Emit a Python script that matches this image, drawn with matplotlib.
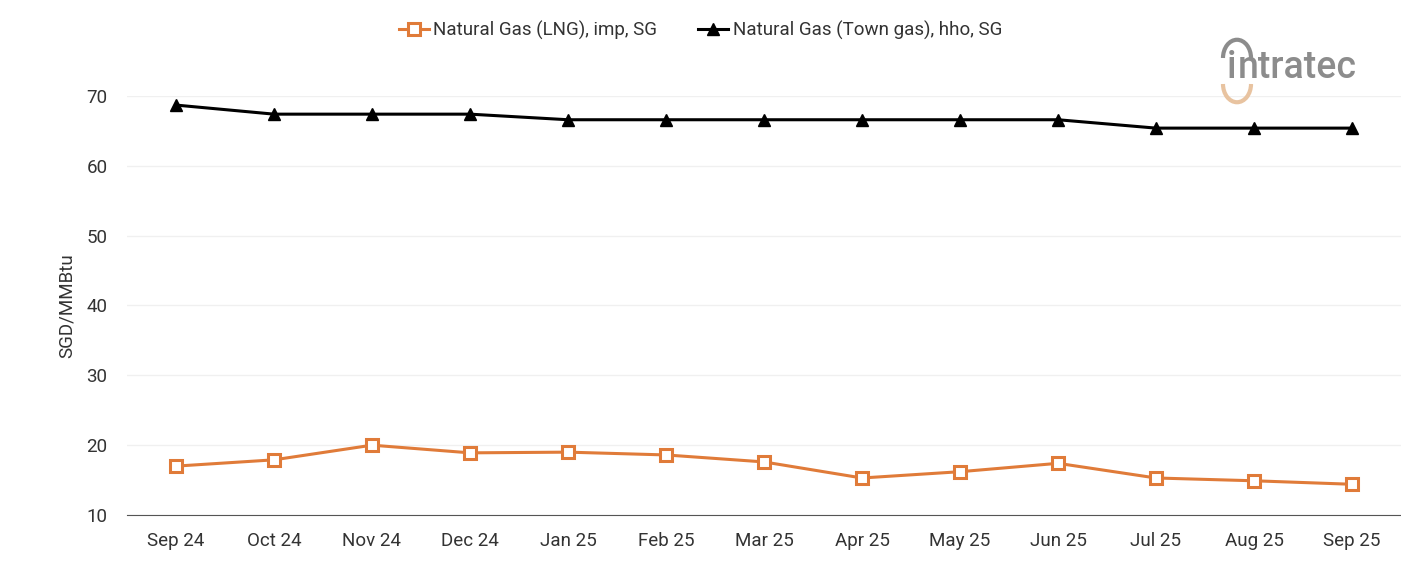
import matplotlib.pyplot as plt
from matplotlib.patches import Arc

plt.rcParams['font.family'] = ['Roboto', 'DejaVu Sans']

months = ["Sep 24", "Oct 24", "Nov 24", "Dec 24", "Jan 25", "Feb 25", "Mar 25",
          "Apr 25", "May 25", "Jun 25", "Jul 25", "Aug 25", "Sep 25"]
lng = [17.0, 17.9, 20.0, 18.9, 19.0, 18.6, 17.6, 15.3, 16.2, 17.4, 15.3, 14.9, 14.4]
town_gas = [68.7, 67.4, 67.4, 67.4, 66.6, 66.6, 66.6, 66.6, 66.6, 66.6, 65.4, 65.4, 65.4]

fig = plt.figure(figsize=(14.01, 5.61), dpi=100)
ax = fig.add_axes([127 / 1401, 1 - 515 / 561, 1 - 127 / 1401, (515 - 96) / 561])

x = range(len(months))
ax.plot(x, lng, color='#e07b39', lw=2.2, marker='s', markersize=8,
        markerfacecolor='white', markeredgecolor='#e07b39', markeredgewidth=2.2,
        label='Natural Gas (LNG), imp, SG', clip_on=False)
ax.plot(x, town_gas, color='black', lw=2.2, marker='^', markersize=9,
        label='Natural Gas (Town gas), hho, SG', clip_on=False)

ax.set_xlim(-0.5, len(months) - 0.5)
ax.set_ylim(10, 70)
ax.set_yticks(range(10, 71, 10))
ax.set_xticks(list(x))
ax.set_xticklabels(months)
ax.grid(axis='y', color='#f0f0f0', lw=1)
ax.set_axisbelow(True)
for s in ['top', 'right', 'left']:
    ax.spines[s].set_visible(False)
ax.spines['bottom'].set_color('#555555')
ax.tick_params(axis='both', length=0, labelsize=13.5, colors='#333333')
ax.tick_params(axis='x', pad=12)
ax.tick_params(axis='y', pad=14)
ax.set_ylabel('SGD/MMBtu', fontsize=13.5, color='#333333', labelpad=8)

fig.legend(loc='center', bbox_to_anchor=(0.5, 1 - 30 / 561), ncol=2, frameon=False,
           fontsize=13.5, handlelength=1.6, columnspacing=2.2, handletextpad=0.25,
           labelcolor='#333333')

# logo
fig.text(1238 / 1401, 1 - 68 / 561, 'ntratec', fontsize=27, color='#8c8c8c',
         fontweight='medium', va='center', ha='left')
fig.text(1227 / 1401, 1 - 68 / 561, 'i', fontsize=27, color='#8c8c8c',
         fontweight='medium', va='center', ha='left')
fig.add_artist(Arc((1237 / 1401, 1 - 58 / 561), 0.02, 0.065, theta1=0, theta2=180,
                   color='#8c8c8c', lw=3, transform=fig.transFigure))
fig.add_artist(Arc((1237 / 1401, 1 - 84 / 561), 0.02, 0.065, theta1=180, theta2=360,
                   color='#e8c3a0', lw=3, transform=fig.transFigure))

fig.savefig('out.png', dpi=100, facecolor='white')
